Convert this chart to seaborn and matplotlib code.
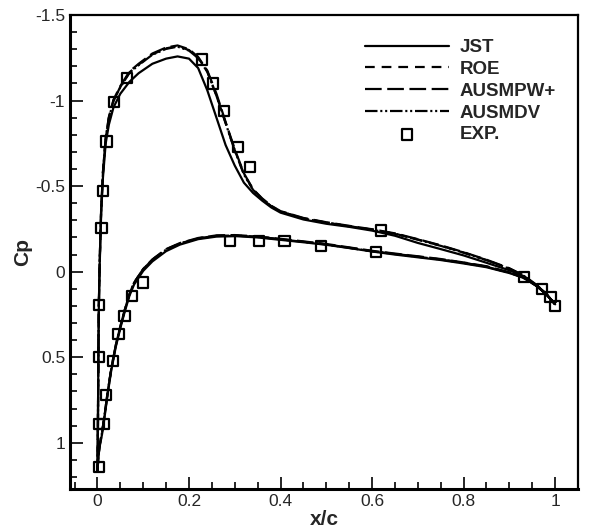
import numpy as np
import pandas as pd
import matplotlib
matplotlib.use("Agg")
import matplotlib.pyplot as plt
from matplotlib.ticker import MultipleLocator, FuncFormatter
import seaborn as sns

# surface stations (leading edge -> trailing edge)
x_upper = [0.0, 0.001, 0.002, 0.003, 0.005, 0.008, 0.012, 0.018, 0.025, 0.035,
           0.05, 0.07, 0.09, 0.12, 0.15, 0.175, 0.2, 0.22, 0.24, 0.26,
           0.28, 0.30, 0.32, 0.34, 0.36, 0.38, 0.40, 0.45, 0.5, 0.55,
           0.6, 0.65, 0.7, 0.75, 0.8, 0.85, 0.9, 0.93, 0.96, 0.98, 1.0]
x_lower = [0.0, 0.002, 0.005, 0.01, 0.015, 0.022, 0.03, 0.04, 0.05, 0.06,
           0.07, 0.08, 0.1, 0.12, 0.15, 0.18, 0.22, 0.26, 0.3, 0.35,
           0.4, 0.45, 0.5, 0.55, 0.6, 0.65, 0.7, 0.75, 0.8, 0.85,
           0.9, 0.93, 0.96, 0.98, 1.0]

cp_jst_up = [1.17, 0.9, 0.5, 0.2, -0.05, -0.33, -0.55, -0.75, -0.86, -0.96,
             -1.04, -1.11, -1.16, -1.215, -1.245, -1.258, -1.245, -1.19, -1.06, -0.90,
             -0.74, -0.62, -0.52, -0.46, -0.415, -0.375, -0.345, -0.305, -0.28, -0.262,
             -0.24, -0.21, -0.168, -0.132, -0.095, -0.052, -0.008, 0.025, 0.085, 0.13, 0.19]
cp_roe_up = [1.17, 0.9, 0.5, 0.2, -0.07, -0.36, -0.58, -0.78, -0.9, -1.0,
             -1.08, -1.165, -1.21, -1.27, -1.305, -1.318, -1.295, -1.25, -1.17, -1.03,
             -0.87, -0.71, -0.57, -0.48, -0.425, -0.382, -0.352, -0.312, -0.287, -0.266,
             -0.246, -0.222, -0.188, -0.152, -0.112, -0.068, -0.018, 0.022, 0.08, 0.13, 0.19]
cp_pw_up = [1.17, 0.9, 0.5, 0.2, -0.07, -0.36, -0.585, -0.785, -0.905, -1.005,
            -1.085, -1.17, -1.215, -1.275, -1.31, -1.322, -1.3, -1.255, -1.175, -1.04,
            -0.875, -0.715, -0.575, -0.482, -0.428, -0.385, -0.354, -0.314, -0.289, -0.268,
            -0.248, -0.224, -0.19, -0.154, -0.114, -0.07, -0.02, 0.02, 0.078, 0.128, 0.19]
cp_dv_up = [1.17, 0.9, 0.5, 0.2, -0.068, -0.355, -0.578, -0.778, -0.898, -0.998,
            -1.078, -1.162, -1.207, -1.268, -1.302, -1.315, -1.292, -1.248, -1.168, -1.028,
            -0.868, -0.708, -0.568, -0.478, -0.424, -0.381, -0.351, -0.311, -0.286, -0.265,
            -0.245, -0.221, -0.187, -0.151, -0.111, -0.067, -0.017, 0.022, 0.08, 0.13, 0.19]

cp_jst_lo = [1.17, 1.08, 1.02, 0.95, 0.86, 0.72, 0.58, 0.44, 0.33, 0.23,
             0.14, 0.075, -0.005, -0.06, -0.12, -0.158, -0.19, -0.205, -0.208, -0.2,
             -0.186, -0.172, -0.157, -0.138, -0.118, -0.1, -0.084, -0.068, -0.048, -0.026,
             0.008, 0.035, 0.085, 0.13, 0.19]
cp_roe_lo = [1.17, 1.08, 1.01, 0.94, 0.85, 0.71, 0.57, 0.43, 0.32, 0.22,
             0.13, 0.065, -0.015, -0.07, -0.13, -0.165, -0.195, -0.21, -0.212, -0.204,
             -0.19, -0.175, -0.16, -0.14, -0.12, -0.104, -0.088, -0.072, -0.052, -0.03,
             0.005, 0.033, 0.082, 0.128, 0.19]
cp_pw_lo = [1.17, 1.08, 1.01, 0.94, 0.85, 0.71, 0.57, 0.43, 0.32, 0.22,
            0.13, 0.064, -0.016, -0.072, -0.132, -0.167, -0.197, -0.212, -0.214, -0.206,
            -0.192, -0.177, -0.162, -0.142, -0.122, -0.106, -0.09, -0.074, -0.054, -0.032,
            0.004, 0.032, 0.081, 0.128, 0.19]
cp_dv_lo = [1.17, 1.08, 1.01, 0.94, 0.85, 0.71, 0.57, 0.43, 0.32, 0.22,
            0.13, 0.066, -0.014, -0.069, -0.129, -0.164, -0.194, -0.209, -0.211, -0.203,
            -0.189, -0.174, -0.159, -0.139, -0.119, -0.103, -0.087, -0.071, -0.051, -0.029,
            0.006, 0.034, 0.083, 0.129, 0.19]

exp_x = [0.004, 0.003, 0.003, 0.004, 0.009, 0.012, 0.02, 0.036, 0.064, 0.229,
         0.253, 0.276, 0.307, 0.333, 0.62, 0.932, 0.972, 0.99, 1.0,
         0.013, 0.019, 0.034, 0.046, 0.059, 0.076, 0.1, 0.29, 0.353, 0.409,
         0.489, 0.609]
exp_cp = [1.14, 0.89, 0.50, 0.195, -0.257, -0.473, -0.76, -0.99, -1.13, -1.24,
          -1.10, -0.94, -0.73, -0.61, -0.24, 0.033, 0.10, 0.147, 0.20,
          0.89, 0.72, 0.52, 0.365, 0.257, 0.143, 0.063, -0.18, -0.18, -0.179,
          -0.151, -0.113]

sns.set_style("ticks")
plt.rcParams['font.family'] = ['Liberation Sans', 'DejaVu Sans']
plt.rcParams['lines.scale_dashes'] = False

fig = plt.figure(figsize=(5.9, 5.32), dpi=100)
ax = fig.add_axes([70 / 590, 43 / 532, 508 / 590, 474 / 532])


def loop(up, lo):
    # trailing edge -> leading edge along upper, then back along lower
    xs = list(reversed(x_upper)) + x_lower[1:]
    cs = list(reversed(up)) + lo[1:]
    return pd.DataFrame({'x': xs, 'cp': cs})


schemes = [
    ('JST', cp_jst_up, cp_jst_lo, '-'),
    ('ROE', cp_roe_up, cp_roe_lo, (0, (7, 5))),
    ('AUSMPW+', cp_pw_up, cp_pw_lo, (0, (12, 4))),
    ('AUSMDV', cp_dv_up, cp_dv_lo, (0, (9, 2, 1.5, 2, 1.5, 2))),
]
for name, up, lo, ls in schemes:
    d = loop(up, lo)
    sns.lineplot(data=d, x='x', y='cp', sort=False, estimator=None, color='black',
                 linestyle=ls, linewidth=1.6, label=name, ax=ax)

sns.scatterplot(x=exp_x, y=exp_cp, marker='s', s=55, facecolor='none',
                edgecolor='black', linewidth=1.6, label='EXP.', ax=ax, zorder=5)

ax.set_xlim(-0.06, 1.05)
ax.set_ylim(1.27, -1.5)
ax.xaxis.set_major_locator(MultipleLocator(0.2))
ax.xaxis.set_minor_locator(MultipleLocator(0.05))
ax.yaxis.set_major_locator(MultipleLocator(0.5))
ax.yaxis.set_minor_locator(MultipleLocator(0.1))
fmt = FuncFormatter(lambda v, p: '%g' % round(v, 6))
ax.xaxis.set_major_formatter(fmt)
ax.yaxis.set_major_formatter(fmt)
ax.tick_params(which='both', direction='in', top=False, right=False,
               labelsize=12.5, width=1.4)
ax.tick_params(which='major', length=9)
ax.tick_params(which='minor', length=5)
for s in ax.spines.values():
    s.set_linewidth(1.6)
    s.set_color('black')
ax.spines['left'].set_linewidth(2.2)
ax.spines['bottom'].set_linewidth(2.2)

ax.set_xlabel('x/c', fontsize=15, fontweight='bold', labelpad=1)
ax.set_ylabel('Cp', fontsize=15, fontweight='bold', labelpad=2)

leg = ax.legend(loc='upper right', bbox_to_anchor=(0.99, 0.985), frameon=False,
                handlelength=4.5, handletextpad=0.55, labelspacing=0.25,
                scatterpoints=1, prop={'weight': 'bold', 'size': 13.5})

fig.savefig('out.png', dpi=100)
